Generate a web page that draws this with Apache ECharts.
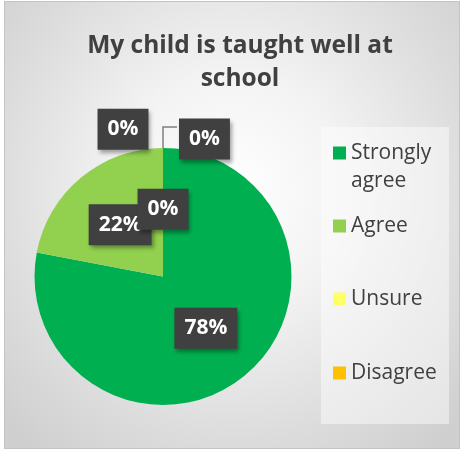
<!DOCTYPE html>
<html><head><meta charset="utf-8">
<script src="https://cdn.jsdelivr.net/npm/echarts@6/dist/echarts.min.js"></script>
<style>
html,body{margin:0;padding:0;background:#fff;width:462px;height:452px;overflow:hidden}
#bg{position:absolute;left:4px;top:1px;width:454px;height:446px;border:1px solid #c4c4c4;
background:radial-gradient(ellipse 70% 75% at 50% 42%, #ffffff 0%, #f3f3f3 35%, #dcdcdc 75%, #cfcfcf 100%);}
#c{position:absolute;left:0;top:0;width:462px;height:452px}
</style></head>
<body><div id="bg"></div><div id="c"></div>
<script>
const titleText = 'My child is taught well at\nschool';
const categories = ['Strongly agree', 'Agree', 'Unsure', 'Disagree', 'Strongly disagree'];
const values = [78, 22, 0, 0, 0];
const colors = ['#00B050', '#92D050', '#FFFF66', '#FFC000', '#FF0000'];
const legendNames = ['Strongly agree', 'Agree', 'Unsure', 'Disagree'];
const legendLabels = ['Strongly\nagree', 'Agree', 'Unsure', 'Disagree'];
const legendTops = [139, 212, 285, 359];

const FONT = '"Open Sans", Lato, sans-serif';
const labelBase = {
  color: '#fff', fontWeight: 'bold', fontSize: 21, fontFamily: FONT,
  backgroundColor: '#404040', padding: [10, 10, 8, 10], lineHeight: 23,
  shadowColor: 'rgba(0,0,0,0.35)', shadowBlur: 4, shadowOffsetX: 2, shadowOffsetY: 3,
  formatter: '{c}%'
};
const data = categories.map((n, i) => {
  const d = { name: n, value: values[i], itemStyle: { color: colors[i] } };
  if (i === 4) {
    d.label = { position: 'outside', distanceToLabelLine: 0 };
    d.labelLine = { show: true, length: 21, length2: 14, lineStyle: { color: '#7f7f7f', width: 1.5 } };
  } else {
    d.label = { position: 'inside' };
    d.labelLine = { show: false };
  }
  return d;
});

const squareFirstLine = 'path://M0,0L0.01,0L0.01,0.01Z M0,7.5L13,7.5L13,20.5L0,20.5Z M0,55.99L0.01,55.99L0.01,56Z';

const chart = echarts.init(document.getElementById('c'), null, { renderer: 'canvas' });
chart.setOption({
  animation: false,
  backgroundColor: 'transparent',
  title: {
    text: titleText, left: 235, top: 25, textAlign: 'center',
    textStyle: { color: '#404040', fontSize: 24.5, fontWeight: 'bold', fontFamily: FONT, lineHeight: 33 }
  },
  graphic: [{
    type: 'rect', left: 321, top: 127, shape: { width: 128, height: 297 },
    style: { fill: 'rgba(255,255,255,0.45)' }, z: -1
  }],
  legend: legendNames.map((n, i) => ({
    data: [n], left: 333, top: legendTops[i], orient: 'vertical', padding: 0,
    icon: i === 0 ? squareFirstLine : 'rect',
    itemWidth: 13, itemHeight: i === 0 ? 56 : 13, itemGap: 0,
    formatter: () => legendLabels[i],
    selectedMode: false,
    textStyle: { color: '#404040', fontSize: 21, fontFamily: FONT, lineHeight: 28 }
  })),
  series: [{
    type: 'pie', center: [163, 276.5], radius: 128.5,
    startAngle: 90, clockwise: true, avoidLabelOverlap: false,
    label: labelBase,
    labelLayout: function (p) {
      if (p.dataIndex === 3) return { dx: -40, dy: -80 };
      if (p.dataIndex === 4) return { dx: 2, dy: 12 };
      return {};
    },
    emphasis: { disabled: true },
    data: data
  }]
});
</script>
</body></html>
